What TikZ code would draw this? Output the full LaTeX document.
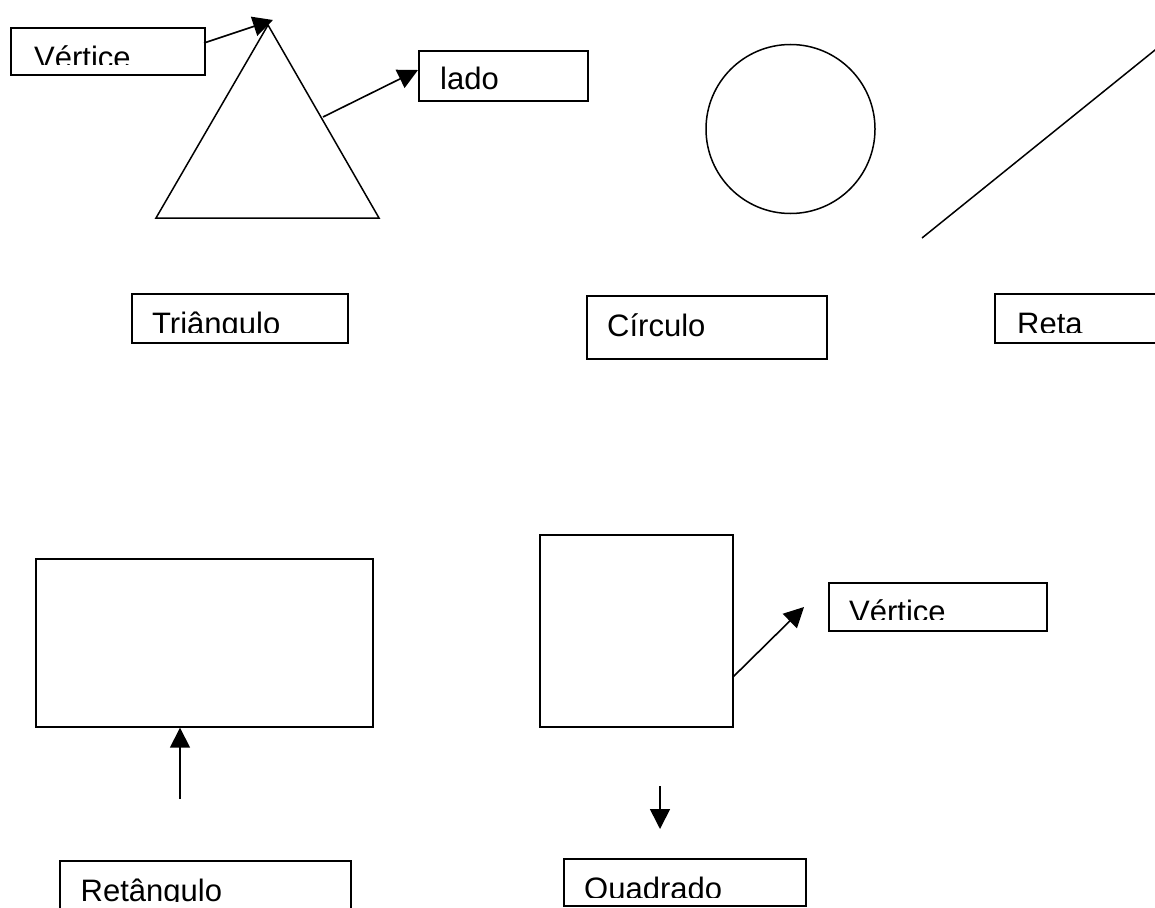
\documentclass[tikz,border=0pt]{standalone}
\usepackage{fontspec}
\setmainfont{Liberation Sans}
\usetikzlibrary{arrows.meta}
\tikzset{
  shp/.style={draw, line width=1.5pt},
  box/.style={draw, line width=1.7pt, anchor=north west, inner sep=0pt},
  lbl/.style={anchor=base west, inner sep=0pt, font=\fontsize{31}{36}\selectfont},
  conn/.style={line width=1.6pt, -{Triangle[length=20pt,width=20pt]}}
}
\begin{document}
\begin{tikzpicture}[x=1pt,y=-1pt]
\clip (0,0) rectangle (1155,907);
\fill[white] (0,0) rectangle (1155,907);
% ---------- triangle ----------
\coordinate (apex) at (268,25);
\coordinate (bl) at (156,218);
\coordinate (br) at (379,218);
\draw[shp, line join=miter] (apex) -- (br) -- (bl) -- cycle;
% Vertice box (top)
\node[box, minimum width=194pt, minimum height=47pt] (v1box) at (10,27) {};
\begin{scope}\clip (10,27) rectangle (204,64);
\node[lbl] (v1txt) at (34,68) {Vértice};
\end{scope}
\coordinate (v1s) at (204,43);
\coordinate (v1t) at (273,20);
\draw[conn] (v1s) -- (v1t);
% lado
\node[box, minimum width=169pt, minimum height=50pt] (ladobox) at (418,50) {};
\node[lbl] (ladotxt) at (440,89) {lado};
\coordinate (ls) at (323,117);
\draw[conn] (ls) -- (ladobox.west |- 0,70);
% Triangulo
\node[box, minimum width=216pt, minimum height=49pt] (tribox) at (131,293) {};
\begin{scope}\clip (131,293) rectangle (347,332);
\node[lbl] (tritxt) at (152,334.5) {Triângulo};
\end{scope}
% ---------- circle ----------
\node[shp, circle, minimum size=169pt, inner sep=0pt] (circ) at (790.5,129) {};
\node[box, minimum width=240pt, minimum height=63pt] (circbox) at (586,295) {};
\node[lbl] (circtxt) at (607,336) {Círculo};
% ---------- line ----------
\coordinate (r1) at (922,238);
\coordinate (r2) at (1160,46);
\draw[shp] (r1) -- (r2);
\node[box, minimum width=200pt, minimum height=49pt] (retabox) at (994,293) {};
\begin{scope}\clip (994,293) rectangle (1155,332);
\node[lbl] (retatxt) at (1017,334.5) {Reta};
\end{scope}
% ---------- rectangle ----------
\node[box, minimum width=337pt, minimum height=168pt] (rect) at (35,558) {};
\coordinate (rs) at (180,799);
\draw[conn] (rs) -- (rs |- rect.south);
\node[box, minimum width=291pt, minimum height=80pt] (retbox) at (59,860) {};
\begin{scope}\clip (59,860) rectangle (350,901);
\node[lbl] (rettxt) at (80.5,901.5) {Retângulo};
\end{scope}
% ---------- square ----------
\node[box, minimum width=193pt, minimum height=192pt] (sq) at (539,534) {};
\coordinate (ss) at (733,677);
\coordinate (st) at (804,607);
\draw[conn] (ss) -- (st);
\node[box, minimum width=218pt, minimum height=48pt] (v2box) at (828,582) {};
\begin{scope}\clip (828,582) rectangle (1046,619);
\node[lbl] (v2txt) at (849,622.5) {Vértice};
\end{scope}
\coordinate (ds) at (660,786);
\coordinate (dt) at (660,829);
\draw[conn] (ds) -- (dt);
\node[box, minimum width=242pt, minimum height=47pt] (qbox) at (563,858) {};
\begin{scope}\clip (563,858) rectangle (805,897);
\node[lbl] (qtxt) at (584,899.5) {Quadrado};
\end{scope}
\end{tikzpicture}
\end{document}
